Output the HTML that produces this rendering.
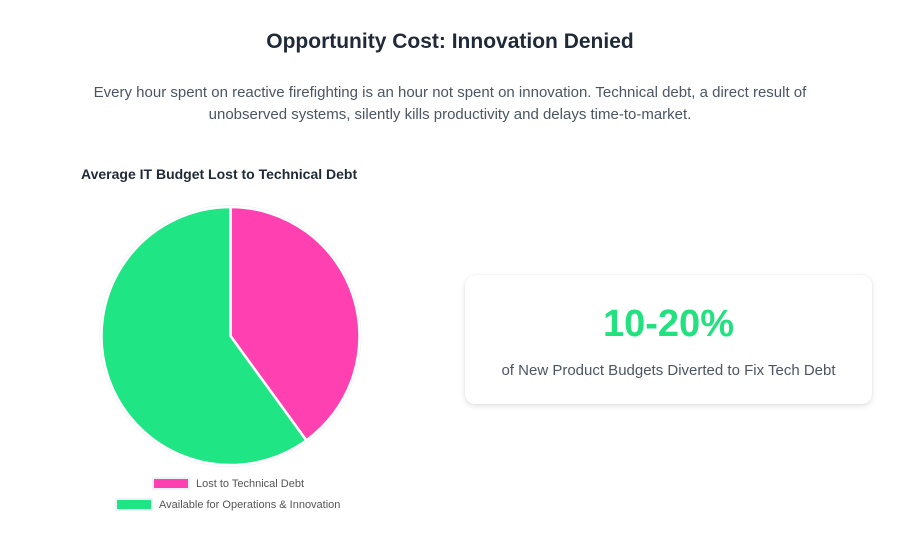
<!DOCTYPE html>
<html><head><meta charset="utf-8"><style>
body{margin:0;width:900px;height:547px;background:#fff;font-family:"Liberation Sans",sans-serif;position:relative;overflow:hidden}
.abs{position:absolute}
h1{position:absolute;top:30px;left:0;width:900px;text-align:center;margin:0;font-size:21px;font-weight:bold;color:#1f2937}
.sub{top:82px;left:60px;width:780px;text-align:center;font-size:15px;line-height:22px;color:#4b5563}
.ctitle{top:166px;left:81px;font-size:14px;font-weight:bold;color:#1f2937}
.card{left:465px;top:275px;width:407px;height:129px;border-radius:10px;background:#fff;box-shadow:0 2px 6px rgba(0,0,0,0.12),0 0 1px rgba(0,0,0,0.1)}
.big{position:absolute;top:28px;width:100%;text-align:center;font-size:38px;font-weight:bold;color:#22e27f}
.cap{position:absolute;top:87px;width:100%;text-align:center;font-size:15px;color:#4b5563}
</style></head><body>
<h1>Opportunity Cost: Innovation Denied</h1>
<div class="abs sub">Every hour spent on reactive firefighting is an hour not spent on innovation. Technical debt, a direct result of unobserved systems, silently kills productivity and delays time-to-market.</div>
<div class="abs ctitle">Average IT Budget Lost to Technical Debt</div>
<svg class="abs" style="left:0;top:0" width="460" height="547">
<g id="slices"></g>
<g id="legend"></g>
</svg>
<div class="abs card">
<div class="big">10-20%</div>
<div class="cap">of New Product Budgets Diverted to Fix Tech Debt</div>
</div>
<script>
const labels=["Lost to Technical Debt","Available for Operations & Innovation"];
const values=[40,60];
const colors=["#ff40b0","#20e584"];
const ns="http://www.w3.org/2000/svg";
const cx=230.5,cy=336,r=129;
const total=values.reduce((a,b)=>a+b,0);
const g=document.getElementById('slices');
const bg=document.createElementNS(ns,'circle');
bg.setAttribute('cx',cx);bg.setAttribute('cy',cy);bg.setAttribute('r',r+2);bg.setAttribute('fill','#eef1f7');


g.appendChild(bg);
let a0=-Math.PI/2;
values.forEach((v,i)=>{
 const a1=a0+v/total*2*Math.PI;
 const x0=cx+r*Math.cos(a0),y0=cy+r*Math.sin(a0),x1=cx+r*Math.cos(a1),y1=cy+r*Math.sin(a1);
 const p=document.createElementNS(ns,'path');
 p.setAttribute('d',`M${cx},${cy}L${x0},${y0}A${r},${r} 0 ${a1-a0>Math.PI?1:0} 1 ${x1},${y1}Z`);
 p.setAttribute('fill',colors[i]);p.setAttribute('stroke','#fff');p.setAttribute('stroke-width','2.5');
 
 
 g.appendChild(p);
 a0=a1;
});
const lg=document.getElementById('legend');
const lx=[153,116],ly=[483,504];
labels.forEach((l,i)=>{
 const box=document.createElementNS(ns,'rect');
 box.setAttribute('x',lx[i]);box.setAttribute('y',ly[i]-5);box.setAttribute('width',36);box.setAttribute('height',11);
 box.setAttribute('fill',colors[i]);box.setAttribute('stroke','#eef1f7');box.setAttribute('stroke-width','2');
 
 
 lg.appendChild(box);
 const t=document.createElementNS(ns,'text');
 t.setAttribute('x',lx[i]+43);t.setAttribute('y',ly[i]+4);t.setAttribute('font-size','11');t.setAttribute('fill','#555');
 t.setAttribute('font-family','Liberation Sans, sans-serif');
 t.textContent=l;
 
 
 lg.appendChild(t);
});
</script>
</body></html>
